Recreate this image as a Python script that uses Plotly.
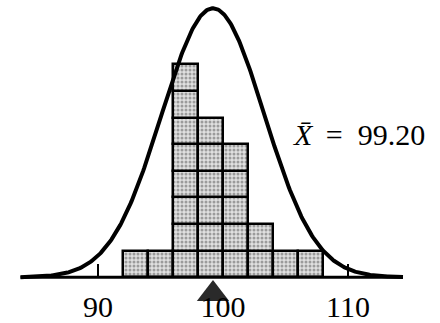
import numpy as np
import plotly.graph_objects as go

# Sample of 25 measurements grouped into bins of width 2
bin_centers = [93, 95, 97, 99, 101, 103, 105, 107]
bin_counts = [1, 1, 8, 6, 5, 2, 1, 1]
bin_width = 2
sample_mean = 99.20
curve_sd = 4.1
curve_peak = 10.1
curve_span = (83.8, 114.4)
tick_values = [90, 100, 110]
tick_text = ["90", "100", "110"]

y_range = [-1.6, 10.41]
serif = "Liberation Serif"

fig = go.Figure()

# one square per observation, stacked in each bin
for level in range(max(bin_counts)):
    xs = [c for c, n in zip(bin_centers, bin_counts) if n > level]
    fig.add_trace(go.Bar(
        x=xs, y=[1] * len(xs), base=[level] * len(xs), width=bin_width,
        marker=dict(color="#dcdcdc",
                    line=dict(color="black", width=2.5),
                    pattern=dict(shape=".", fgcolor="#555555", bgcolor="#e0e0e0",
                                 size=4, solidity=0.45)),
        showlegend=False, hoverinfo="skip"))

# normal curve
xc = np.linspace(curve_span[0], curve_span[1], 400)
yc = curve_peak * np.exp(-0.5 * ((xc - sample_mean) / curve_sd) ** 2)
fig.add_trace(go.Scatter(x=xc, y=yc, mode="lines",
                         line=dict(color="black", width=4),
                         showlegend=False, hoverinfo="skip"))

# baseline
fig.add_trace(go.Scatter(x=list(curve_span), y=[0, 0], mode="lines",
                         line=dict(color="black", width=3),
                         showlegend=False, hoverinfo="skip"))

# mean marker
fig.add_trace(go.Scatter(x=[sample_mean], y=[-0.62], mode="markers",
                         marker=dict(symbol="triangle-up", size=28, color="#2a2a2a",
                                     line=dict(width=0)),
                         showlegend=False, hoverinfo="skip"))

fig.add_annotation(x=105.4, y=5.35, xanchor="left", yanchor="middle",
                   text="<i>X̄</i> \u2009=\u2002%.2f" % sample_mean, showarrow=False,
                   font=dict(family=serif, size=30, color="black"))

fig.update_layout(
    width=440, height=323,
    margin=dict(l=0, r=0, t=0, b=0),
    paper_bgcolor="white", plot_bgcolor="white",
    font=dict(family=serif),
    barmode="overlay", bargap=0,
    xaxis=dict(range=[82.16, 117.36], tickvals=tick_values, ticktext=tick_text,
               anchor="free", position=(0 - y_range[0]) / (y_range[1] - y_range[0]),
               ticks="inside", ticklen=13, tickwidth=2, tickcolor="black",
               showline=False, zeroline=False, showgrid=False,
               tickfont=dict(family=serif, size=30, color="black"),
               ticklabelstandoff=9),
    yaxis=dict(range=y_range, visible=False, showgrid=False, zeroline=False),
)

fig.write_html("out.html")
